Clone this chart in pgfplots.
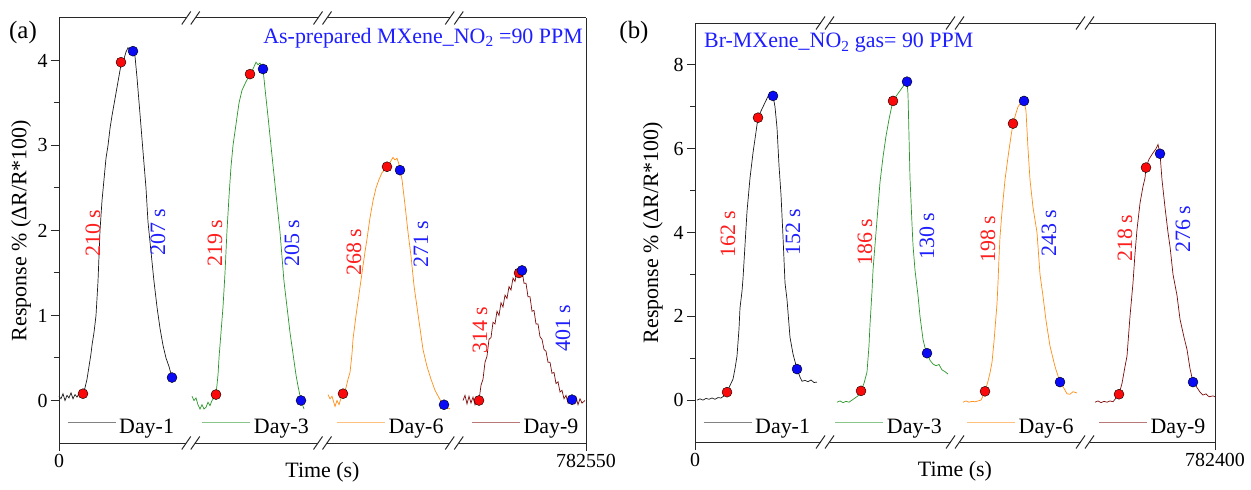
\documentclass[border=0pt]{standalone}
\usepackage{pgfplots}
\pgfplotsset{compat=1.18}
\usepackage{fontspec}
\setmainfont{Liberation Serif}
\definecolor{c1}{RGB}{25,25,25}
\definecolor{c3}{RGB}{40,150,40}
\definecolor{c6}{RGB}{255,140,20}
\definecolor{c9}{RGB}{125,10,10}
\definecolor{mred}{RGB}{250,10,10}
\definecolor{mblue}{RGB}{10,10,245}
\definecolor{tred}{RGB}{255,30,30}
\definecolor{tblue}{RGB}{30,30,255}
\definecolor{axc}{RGB}{40,40,40}
\tikzset{axl/.style={draw=axc,line width=1bp}}
\newcommand{\brk}[2]{%
  \draw[axl] ([xshift=-9bp,yshift=-6.5bp]axis cs:#1,#2) -- ([yshift=6.5bp]axis cs:#1,#2);
  \draw[axl] ([yshift=-6.5bp]axis cs:#1,#2) -- ([xshift=9bp,yshift=6.5bp]axis cs:#1,#2);}
\pgfplotsset{
  common/.style={
    scale only axis,
    axis line style={draw=none},
    tick pos=left,
    tick align=outside,
    major tick length=8bp, minor tick length=5bp,
    every tick/.style={axc, line width=1bp},
    minor y tick num=1,
    clip=false,
    tick label style={font=\fontsize{20}{24}\selectfont},
    /pgf/number format/assume math mode=true,
    label style={font=\fontsize{22}{26}\selectfont},
    legend columns=4,
    legend style={draw=none, fill=none, font=\fontsize{22}{26}\selectfont,
      nodes={inner sep=0pt},
      /tikz/every odd column/.append style={column sep=3bp}},
    legend image code/.code={\path (0bp,0bp); \draw[##1, line width=1bp, opacity=0.55] (0bp,0.42em) -- (48bp,0.42em);},
  },
  lin/.style={line width=0.7bp},
  rdot/.style={only marks, mark=*, mark size=5bp, mark options={draw=none, fill=mred}, forget plot},
  bdot/.style={only marks, mark=*, mark size=5bp, mark options={draw=none, fill=mblue}, forget plot},
}
\begin{document}
\begin{tikzpicture}
\useasboundingbox (0,0) rectangle (1251bp,490bp);
% ---------------- panel (a)
\begin{axis}[common,
  at={(59bp,47bp)}, anchor=south west,
  width=527bp, height=425bp,
  xmin=0, xmax=527, ymin=-0.5, ymax=4.5,
  xtick={0,527}, xticklabels={0,782550},
  ytick={0,1,2,3,4},
  xlabel={Time (s)}, ylabel={Response \% (ΔR/R*100)},
  xlabel style={at={(axis description cs:0.5,-0.068)}, anchor=center},
  ylabel style={at={(axis description cs:-0.072,0.5)}, anchor=center},
  legend style={at={(axis cs:5,-0.31)}, anchor=west,
    /tikz/every even column/.append style={column sep=28bp}},
]
\addplot[lin,c1] coordinates {(0,0.05)(2,0.02)(4,0.08)(6,0.0)(8,0.06)(10,0.03)(12,0.09)(14,0.02)(16,0.07)(18,0.04)(20,0.08)(22,0.05)(24,0.08)(26,0.15)(28,0.25)(30,0.4)(32,0.55)(33,0.65)(35,0.8)(37,1.0)(39,1.4)(41,2.0)(43,2.35)(45,2.6)(47,2.85)(49,3.0)(51,3.2)(53,3.35)(56,3.55)(59,3.75)(62,3.95)(65,4.02)(67,4.1)(69,4.15)(71,4.13)(74,4.11)(76,4.05)(78,3.8)(81,3.37)(84,2.93)(87,2.5)(89,2.1)(92,1.75)(95,1.4)(98,1.1)(101,0.85)(104,0.65)(107,0.5)(110,0.4)(113,0.27)};
\addlegendentry{Day-1}
\addplot[lin,c3] coordinates {(133,0.05)(135,0.0)(137,0.03)(139,-0.05)(141,-0.1)(143,-0.05)(145,-0.1)(147,-0.08)(149,-0.02)(151,-0.06)(153,0.0)(155,0.03)(157,0.07)(159,0.3)(160,0.5)(162,0.8)(164,1.1)(166,1.5)(168,2.0)(170,2.4)(172,2.75)(174,3.0)(177,3.25)(180,3.5)(183,3.65)(187,3.75)(191,3.84)(194,3.9)(197,3.98)(199,3.95)(201,3.97)(204,3.9)(206,3.67)(209,3.34)(213,2.88)(217,2.43)(221,1.98)(225,1.4)(228,1.1)(231,0.8)(234,0.55)(237,0.3)(239,0.17)(242,0.0)(245,-0.1)};
\addlegendentry{Day-3}
\addplot[lin,c6] coordinates {(269,0.07)(271,0.02)(273,0.05)(275,-0.03)(276,-0.07)(278,0.0)(280,-0.05)(282,0.03)(284,0.08)(287,0.15)(289,0.25)(291,0.33)(293,0.55)(294,0.72)(297,1.0)(300,1.25)(303,1.5)(306,1.75)(308,1.9)(311,2.15)(314,2.35)(317,2.5)(320,2.6)(323,2.68)(326,2.72)(328,2.75)(331,2.8)(334,2.86)(336,2.83)(338,2.85)(340,2.78)(341,2.71)(343,2.6)(346,2.3)(349,1.98)(352,1.7)(355,1.35)(358,1.1)(361,0.85)(364,0.6)(368,0.4)(372,0.25)(376,0.12)(381,0.01)(385,-0.05)(388,-0.08)(391,-0.1)};
\addlegendentry{Day-6}
\addplot[lin,c9] coordinates {(404,0.0)(406,0.06)(408,-0.04)(410,0.05)(412,-0.03)(414,0.04)(416,-0.05)(418,0.03)(420,0.0)(422,0.18)(424,0.25)(426,0.45)(428,0.52)(430,0.72)(432,0.74)(434,0.92)(436,0.9)(438,1.05)(440,1.0)(442,1.15)(444,1.1)(446,1.24)(448,1.2)(450,1.34)(452,1.3)(454,1.44)(456,1.4)(458,1.52)(461,1.53)(463,1.53)(465,1.38)(467,1.38)(469,1.22)(471,1.22)(473,1.05)(475,1.06)(477,0.9)(479,0.9)(481,0.75)(483,0.72)(485,0.6)(487,0.58)(489,0.45)(491,0.45)(493,0.32)(495,0.33)(497,0.2)(499,0.22)(501,0.1)(503,0.12)(505,0.02)(507,0.06)(509,-0.03)(511,0.01)(513,0.05)(515,-0.04)(517,0.04)(519,-0.05)(521,0.02)(523,-0.03)(526,0.0)};
\addlegendentry{Day-9}
\addplot[rdot] coordinates {(24,0.08)(62,3.98)(157,0.07)(191,3.84)(284,0.08)(328,2.75)(420,0.0)(460,1.5)};
\addplot[bdot] coordinates {(74,4.11)(113,0.27)(204,3.9)(242,0.0)(341,2.71)(385,-0.05)(463,1.53)(513,0.01)};
% frame
\draw[axl] (rel axis cs:0,0) -- (rel axis cs:0,1);
\draw[axl] (rel axis cs:1,0) -- (rel axis cs:1,1);
\draw[axl] (axis cs:0,-0.5) -- (axis cs:127.25,-0.5);
\draw[axl] (axis cs:136.25,-0.5) -- (axis cs:259,-0.5);
\draw[axl] (axis cs:268,-0.5) -- (axis cs:390.75,-0.5);
\draw[axl] (axis cs:399.75,-0.5) -- (axis cs:527,-0.5);
\draw[axl] (axis cs:0,4.5) -- (axis cs:127.25,4.5);
\draw[axl] (axis cs:136.25,4.5) -- (axis cs:259,4.5);
\draw[axl] (axis cs:268,4.5) -- (axis cs:390.75,4.5);
\draw[axl] (axis cs:399.75,4.5) -- (axis cs:527,4.5);
\brk{131.75}{-0.5}\brk{263.5}{-0.5}\brk{395.25}{-0.5}
\brk{131.75}{4.5}\brk{263.5}{4.5}\brk{395.25}{4.5}
\end{axis}
% ---------------- panel (b)
\begin{axis}[common,
  at={(695bp,48bp)}, anchor=south west,
  width=520bp, height=419bp,
  xmin=0, xmax=520, ymin=-1, ymax=9,
  xtick={0,520}, xticklabels={0,782400},
  ytick={0,2,4,6,8},
  xlabel={Time (s)}, ylabel={Response \% (ΔR/R*100)},
  xlabel style={at={(axis description cs:0.5,-0.07)}, anchor=center},
  ylabel style={at={(axis description cs:-0.081,0.5)}, anchor=center},
  legend style={at={(axis cs:5,-0.64)}, anchor=west,
    /tikz/every even column/.append style={column sep=25bp}},
]
\addplot[lin,c1] coordinates {(2,0.0)(5,0.03)(8,0.0)(11,0.04)(14,0.02)(17,0.05)(20,0.02)(23,0.06)(26,0.05)(29,0.1)(32,0.19)(35,0.35)(38,0.5)(40,0.75)(42,1.05)(44,1.7)(45,2.2)(47,2.6)(48,2.9)(50,3.7)(52,4.5)(55,5.3)(58,5.9)(61,6.4)(63,6.74)(66,6.9)(68,7.0)(71,7.15)(74,7.3)(76,7.35)(78,7.26)(80,7.0)(82,6.5)(84,5.6)(86,4.9)(88,3.9)(90,2.8)(92,2.4)(95,1.5)(98,1.1)(102,0.74)(105,0.55)(107,0.45)(110,0.47)(113,0.44)(116,0.48)(119,0.42)(122,0.43)};
\addlegendentry{Day-1}
\addplot[lin,c3] coordinates {(142,-0.05)(145,-0.02)(148,-0.06)(151,-0.03)(154,-0.05)(157,0.0)(160,0.05)(163,0.1)(166,0.22)(169,0.4)(172,0.67)(174,1.3)(175,1.8)(177,2.6)(178,3.1)(180,3.7)(182,4.3)(185,5.2)(188,5.8)(191,6.3)(194,6.7)(196,6.93)(198,7.14)(201,7.25)(204,7.35)(207,7.45)(210,7.55)(212,7.6)(213,7.3)(214,6.3)(215,5.3)(217,4.2)(218,3.7)(220,3.1)(223,2.5)(225,2.0)(228,1.45)(230,1.25)(232,1.12)(235,0.95)(238,0.86)(241,0.82)(244,0.85)(247,0.72)(250,0.68)(253,0.62)};
\addlegendentry{Day-3}
\addplot[lin,c6] coordinates {(268,-0.05)(271,-0.02)(274,-0.05)(277,-0.03)(280,-0.04)(283,-0.02)(286,0.0)(288,0.1)(290,0.21)(293,0.45)(295,0.65)(297,0.9)(299,1.4)(301,2.0)(302,2.3)(303,2.8)(304,3.4)(305,3.9)(307,4.5)(310,5.26)(313,5.8)(316,6.3)(318,6.6)(321,6.85)(323,7.0)(326,7.1)(329,7.14)(331,6.9)(333,6.0)(335,5.26)(338,4.6)(342,4.0)(345,3.0)(348,2.48)(351,1.9)(355,1.29)(360,0.8)(365,0.43)(369,0.28)(372,0.15)(375,0.14)(378,0.2)(382,0.17)};
\addlegendentry{Day-6}
\addplot[lin,c9] coordinates {(400,-0.05)(403,-0.02)(406,-0.06)(409,-0.03)(412,-0.05)(415,-0.02)(418,-0.04)(421,0.05)(424,0.14)(427,0.4)(430,0.8)(432,1.05)(435,2.0)(438,2.8)(440,3.5)(442,4.07)(445,4.7)(448,5.1)(450,5.3)(451,5.55)(454,5.75)(458,5.9)(461,6.0)(463,6.1)(465,5.88)(467,5.26)(470,4.6)(473,4.0)(475,3.67)(478,3.0)(482,2.5)(485,1.93)(489,1.5)(492,1.21)(495,0.75)(498,0.43)(502,0.3)(505,0.19)(508,0.12)(511,0.15)(514,0.08)(518,0.1)(520,0.08)};
\addlegendentry{Day-9}
\addplot[rdot] coordinates {(32,0.19)(63,6.74)(166,0.22)(198,7.14)(290,0.21)(318,6.6)(424,0.14)(451,5.55)};
\addplot[bdot] coordinates {(78,7.26)(102,0.74)(212,7.6)(232,1.12)(329,7.14)(365,0.43)(465,5.88)(498,0.43)};
\draw[axl] (rel axis cs:0,0) -- (rel axis cs:0,1);
\draw[axl] (rel axis cs:1,0) -- (rel axis cs:1,1);
\draw[axl] (axis cs:0,-1) -- (axis cs:125.5,-1);
\draw[axl] (axis cs:134.5,-1) -- (axis cs:255.5,-1);
\draw[axl] (axis cs:264.5,-1) -- (axis cs:385.5,-1);
\draw[axl] (axis cs:394.5,-1) -- (axis cs:520,-1);
\draw[axl] (axis cs:0,9) -- (axis cs:125.5,9);
\draw[axl] (axis cs:134.5,9) -- (axis cs:255.5,9);
\draw[axl] (axis cs:264.5,9) -- (axis cs:385.5,9);
\draw[axl] (axis cs:394.5,9) -- (axis cs:520,9);
\brk{130}{-1}\brk{260}{-1}\brk{390}{-1}
\brk{130}{9}\brk{260}{9}\brk{390}{9}
\end{axis}
% ---------------- texts
\begin{scope}[every node/.style={font=\fontsize{22}{26}\selectfont, inner sep=0pt}]
\node[font=\fontsize{25}{29}\selectfont] at (23bp,457bp) {(a)};
\node[font=\fontsize{25}{29}\selectfont] at (634bp,457bp) {(b)};
\node[anchor=east, text=tblue] at (583bp,452bp) {As-prepared MXene\_NO\textsubscript{2} =90 PPM};
\node[anchor=west, text=tblue] at (704bp,447bp) {Br-MXene\_NO\textsubscript{2} gas= 90 PPM};
\begin{scope}[every node/.append style={rotate=90}]
\node[text=tred] at (93bp,257bp) {210 s};
\node[text=tblue] at (158bp,258bp) {207 s};
\node[text=tred] at (215bp,247bp) {219 s};
\node[text=tblue] at (292bp,247bp) {205 s};
\node[text=tred] at (354bp,238bp) {268 s};
\node[text=tblue] at (421bp,246bp) {271 s};
\node[text=tred] at (480bp,160bp) {314 s};
\node[text=tblue] at (563bp,162bp) {401 s};
\node[text=tred] at (728bp,256bp) {162 s};
\node[text=tblue] at (793bp,258bp) {152 s};
\node[text=tred] at (865bp,248bp) {186 s};
\node[text=tblue] at (927bp,254bp) {130 s};
\node[text=tred] at (988bp,251bp) {198 s};
\node[text=tblue] at (1049bp,257bp) {243 s};
\node[text=tred] at (1125bp,252bp) {218 s};
\node[text=tblue] at (1183bp,261bp) {276 s};
\end{scope}
\end{scope}
\end{tikzpicture}
\end{document}
